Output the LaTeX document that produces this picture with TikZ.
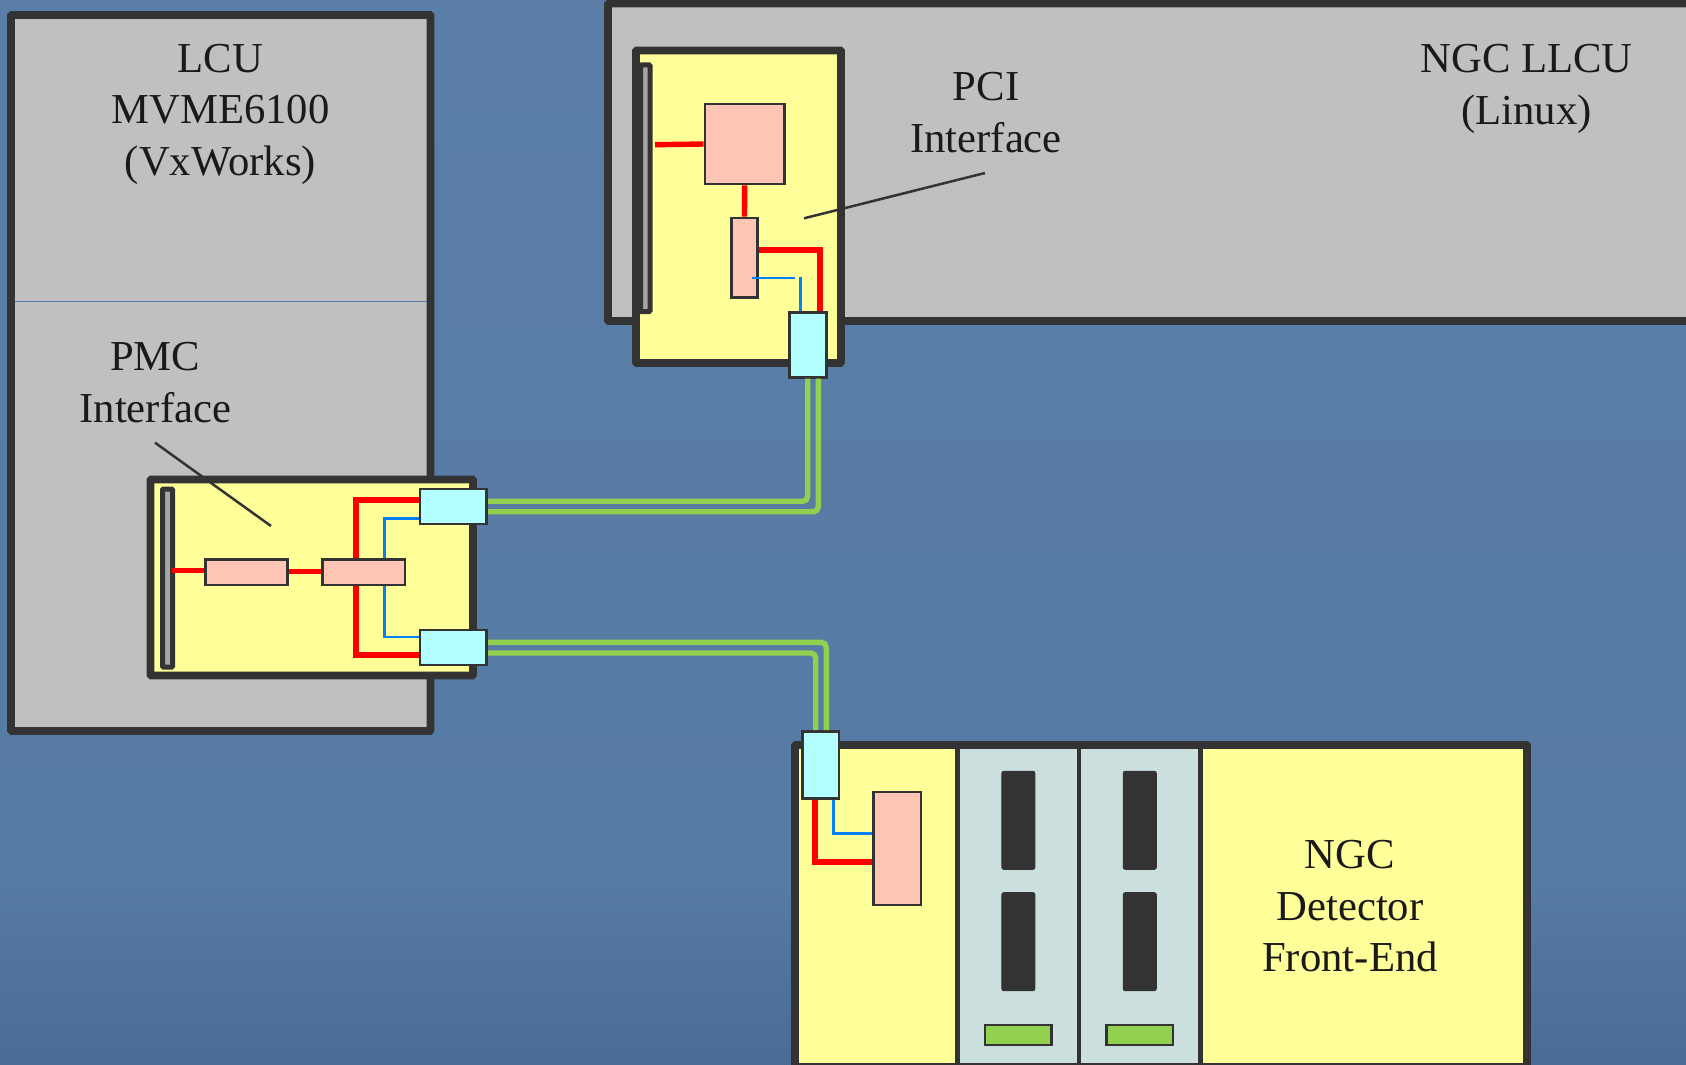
\documentclass[tikz,border=0pt]{standalone}
\usepackage{fontspec}
\setmainfont{Liberation Serif}
\usepackage{tikz}
\usetikzlibrary{positioning}
\definecolor{SkyTop}{HTML}{5A7EA8}
\definecolor{SkyMid}{HTML}{567BA5}
\definecolor{SkyLow}{HTML}{4A6B95}
\definecolor{FrameDark}{HTML}{333333}
\definecolor{HostGrey}{HTML}{C0C0C0}
\definecolor{SlotGrey}{HTML}{A6A6A6}
\definecolor{CardYellow}{HTML}{FFFF99}
\definecolor{ChipPink}{HTML}{FFC5B5}
\definecolor{PortCyan}{HTML}{B3FFFF}
\definecolor{FibreGreen}{HTML}{92D050}
\definecolor{PanelPale}{HTML}{CBDFDF}
\definecolor{WireBlue}{HTML}{0080FF}
\definecolor{TextDark}{HTML}{1A1A1A}
\begin{document}
\begin{tikzpicture}[x=1pt,y=-1pt,>=stealth,node distance=3pt]
  \tikzstyle{host}=[draw=FrameDark,fill=HostGrey,line width=7.8pt,rounded corners=1pt,inner sep=0pt]
  \tikzstyle{card}=[draw=FrameDark,fill=CardYellow,line width=7.8pt,rounded corners=1pt,inner sep=0pt]
  \tikzstyle{slot}=[draw=FrameDark,fill=SlotGrey,line width=5pt,rounded corners=1pt,inner sep=0pt]
  \tikzstyle{panel}=[draw=FrameDark,fill=PanelPale,line width=4.5pt,inner sep=0pt]
  \tikzstyle{chip}=[draw=FrameDark,fill=ChipPink,line width=2.6pt,inner sep=0pt]
  \tikzstyle{port}=[draw=FrameDark,fill=PortCyan,line width=2.6pt,inner sep=0pt]
  \tikzstyle{module}=[draw=FrameDark,fill=FrameDark,line width=1pt,rounded corners=2pt,inner sep=0pt,minimum width=33pt,minimum height=98pt]
  \tikzstyle{strip}=[draw=FrameDark,fill=FibreGreen,line width=2.7pt,inner sep=0pt,minimum width=66.7pt,minimum height=20pt]
  \tikzstyle{caption}=[text=TextDark,align=center,inner sep=0pt,font=\fontsize{42.7}{51.5}\selectfont]
  \tikzstyle{redwire}=[draw=red,line width=5.4pt]
  \tikzstyle{bluewire}=[draw=WireBlue,line width=2.7pt]
  \tikzstyle{fibre}=[draw=FibreGreen,line width=5.4pt,rounded corners=5pt]
  \tikzstyle{leader}=[draw=FrameDark,line width=2.5pt]

  \useasboundingbox (0,0) rectangle (1686,1065);
  % background
  \shade[top color=SkyTop,bottom color=SkyMid] (0,0) rectangle (1686,881);
  \shade[top color=SkyMid,bottom color=SkyLow] (0,880) rectangle (1686,1065);

  % LCU
  \node[host,minimum width=419.5pt,minimum height=716pt] (lcu) at (220.75,373) {};
  \draw[draw=SkyTop,line width=1pt,shorten <=7.5pt,shorten >=7.5pt] (lcu.west |- 0,301) -- (lcu.east |- 0,301);
  \node[caption] (lcutext) at (220.4,114) {LCU\\MVME6100\\(VxWorks)};
  \node[caption] (pmctext) at (155.3,382.5) {PMC\\Interface};

  % LLCU
  \node[host,minimum width=1112pt,minimum height=317.5pt] (llcu) at (1164,162.25) {};
  \node[caption] (llcutext) at (1526.5,89) {NGC LLCU\\(Linux)};
  \node[caption] (pcitext) at (986,112.5) {PCI\\Interface};

  % PMC card
  \node[card,minimum width=322.5pt,minimum height=196pt] (pmccard) at (311.75,577.5) {};
  \node[slot,minimum width=10pt,minimum height=178pt] (pmcslot) at (167.5,578) {};
  \node[chip,minimum width=82pt,minimum height=25.7pt] (pmcfifo) at (246.7,572.15) {};
  \node[chip,minimum width=82.3pt,minimum height=25.7pt] (pmcbridge) at (363.85,572.15) {};
  \node[port,minimum width=66.7pt,minimum height=35pt] (pmcupper) at (453.35,506.5) {};
  \node[port,minimum width=66.7pt,minimum height=35pt] (pmclower) at (453.35,647.5) {};
  \draw[redwire] ([yshift=1.4pt]pmcfifo.west) -- ([yshift=1.4pt,xshift=-2.7pt]pmcfifo.west -| pmcslot.east);
  \draw[redwire] ([yshift=.5pt]pmcfifo.east) -- ([yshift=.5pt]pmcbridge.west);
  \draw[redwire] ([xshift=-7.85pt]pmcbridge.north) |- ([yshift=6.5pt]pmcupper.west);
  \draw[redwire] ([xshift=-7.85pt]pmcbridge.south) |- ([yshift=-7.5pt]pmclower.west);
  \draw[bluewire] ([xshift=20.45pt]pmcbridge.north) |- ([yshift=-11.8pt]pmcupper.west);
  \draw[bluewire] ([xshift=20.45pt]pmcbridge.south) |- ([yshift=10.5pt]pmclower.west);

  % PCI card
  \node[card,minimum width=205pt,minimum height=312.5pt] (pcicard) at (738.5,206.75) {};
  \node[slot,minimum width=9.3pt,minimum height=246.7pt] (pcislot) at (645.35,188.35) {};
  \node[chip,minimum width=79.3pt,minimum height=80pt] (pciasic) at (744.65,144) {};
  \node[chip,minimum width=26.4pt,minimum height=79.7pt] (pcibridge) at (744.5,257.85) {};
  \node[port,minimum width=37.4pt,minimum height=64.6pt] (pciport) at (808,345) {};
  \coordinate (pcistub) at (655,144.7);
  \coordinate (pcihop) at (795,278);
  \draw[redwire] (pcistub) -- (pciasic.west);
  \draw[redwire] (pciasic.south) -- (pcibridge.north);
  \draw[redwire] ([yshift=7.85pt]pcibridge.east) -| ([xshift=12pt]pciport.north);
  \draw[bluewire] ([shift={(7.5pt,-20.15pt)}]pcibridge.center) -- (pcihop);
  \draw[bluewire] ([xshift=-7.7pt]pciport.north) -- ++(0,-34.7);

  % leaders
  \coordinate (pmcfrom) at (155,442.7);
  \coordinate (pmcto) at (271,526);
  \coordinate (pcifrom) at (985,173);
  \coordinate (pcito) at (804,218.3);
  \draw[leader] (pmcfrom) -- (pmcto);
  \draw[leader] (pcifrom) -- (pcito);

  % detector
  \node[card,minimum width=732pt,minimum height=322pt] (detcard) at (1161,906) {};
  \node[panel,minimum width=121.3pt,minimum height=322pt] (panelA) at (1018.35,906) {};
  \node[panel,minimum width=121.5pt,minimum height=322pt] (panelB) at (1139.75,906) {};
  \node[card,fill=none,minimum width=732pt,minimum height=322pt] (detframe) at (detcard) {};
  \node[module] (modA1) at (panelA |- 0,820.3) {};
  \node[module,below=22.4pt of modA1] (modA2) {};
  \node[module] (modB1) at (panelB |- 0,820.3) {};
  \node[module,below=22.4pt of modB1] (modB2) {};
  \node[strip] (stripA) at (panelA |- 0,1035) {};
  \node[strip] (stripB) at (panelB |- 0,1035) {};
  \node[port,minimum width=36.3pt,minimum height=67pt] (detport) at (820.85,764.8) {};
  \node[chip,minimum width=47.7pt,minimum height=113pt] (detchip) at (897.15,848.5) {};
  \draw[redwire] ([xshift=-5.85pt]detport.south) |- ([yshift=-13.5pt]detchip.west);
  \draw[bluewire] ([xshift=12.45pt]detport.south) |- ([yshift=15.2pt]detchip.west);
  \node[caption] (dettext) at (1350,906.5) {NGC\\Detector\\Front-End};

  % fibres
  \draw[fibre] ([yshift=5.25pt]pmcupper.east) -| ([xshift=-.3pt]pciport.south);
  \draw[fibre] ([yshift=-5.25pt]pmcupper.east) -| ([xshift=10.3pt]pciport.south);
  \draw[fibre] ([yshift=5.2pt]pmclower.east) -| ([xshift=5.45pt]detport.north);
  \draw[fibre] ([yshift=-5.5pt]pmclower.east) -| ([xshift=-5.15pt]detport.north);
\end{tikzpicture}
\end{document}
